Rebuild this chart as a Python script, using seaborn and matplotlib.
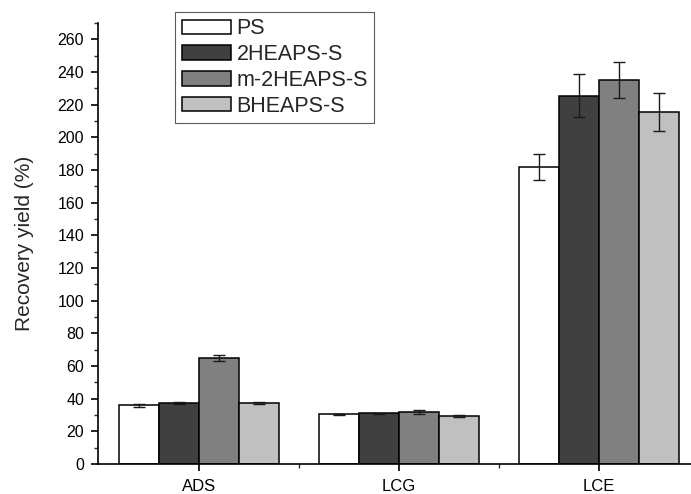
import matplotlib
matplotlib.use("Agg")
import matplotlib.pyplot as plt
from matplotlib.ticker import MultipleLocator, FixedLocator
import seaborn as sns
import pandas as pd
import numpy as np

categories = ["ADS", "LCG", "LCE"]
series = ["PS", "2HEAPS-S", "m-2HEAPS-S", "BHEAPS-S"]
values = {
    "PS": [36.0, 30.5, 182.0],
    "2HEAPS-S": [37.2, 31.0, 225.5],
    "m-2HEAPS-S": [64.8, 31.8, 235.0],
    "BHEAPS-S": [37.5, 29.3, 215.5],
}
errors = {
    "PS": [1.0, 0.3, 8.0],
    "2HEAPS-S": [0.6, 0.3, 13.0],
    "m-2HEAPS-S": [2.0, 1.0, 11.0],
    "BHEAPS-S": [0.7, 0.7, 11.5],
}
colors = ["#ffffff", "#404040", "#808080", "#c0c0c0"]

rows = []
for s in series:
    for c, v, e in zip(categories, values[s], errors[s]):
        rows.append({"cat": c, "series": s, "val": v, "err": e})
df = pd.DataFrame(rows)

sns.set_style("ticks")
plt.rcParams["font.family"] = ["Liberation Sans", "DejaVu Sans"]

fig = plt.figure(figsize=(6.91, 4.94), dpi=100)
ax = fig.add_axes([98/691, 30/494, 1 - 98/691, (464-23)/494])

sns.barplot(data=df, x="cat", y="val", hue="series", order=categories,
            hue_order=series, palette=colors, edgecolor="black", linewidth=1.1,
            width=0.8, errorbar=None, ax=ax, legend=True, saturation=1)

# error bars at bar centers
for s_idx, s in enumerate(series):
    cont = ax.containers[s_idx]
    xs = [p.get_x() + p.get_width()/2 for p in cont.patches]
    ax.errorbar(xs, values[s], yerr=errors[s], fmt="none", ecolor="#1a1a1a",
                elinewidth=1.0, capsize=4, capthick=1.0, zorder=5)

ax.set_xlim(-0.505, 2.46)
ax.set_ylim(0, 270)
ax.yaxis.set_major_locator(FixedLocator(np.arange(0, 261, 20)))
ax.yaxis.set_minor_locator(MultipleLocator(10))
ax.xaxis.set_minor_locator(FixedLocator([0.5, 1.5]))
ax.tick_params(axis="both", which="major", direction="out", length=5, width=1.2,
               colors="black")
ax.tick_params(axis="y", which="major", labelsize=11.5, pad=5)
ax.tick_params(axis="x", which="major", labelsize=12, pad=6)
ax.tick_params(axis="both", which="minor", direction="out", length=3, width=1.0)
ax.set_xlabel("")
ax.set_ylabel("Recovery yield (%)", fontsize=15)
ax.yaxis.set_label_coords(-0.108, 0.5)
sns.despine(ax=ax, top=True, right=True)
for sp in ["left", "bottom"]:
    ax.spines[sp].set_linewidth(1.2)
    ax.spines[sp].set_color("black")

leg = ax.legend(loc="upper left", bbox_to_anchor=(0.13, 1.025), frameon=True,
                fancybox=False, edgecolor="#333333", fontsize=15.5,
                handlelength=2.3, handleheight=0.65, handletextpad=0.25,
                labelspacing=0.22, borderpad=0.3, borderaxespad=0)
leg.get_frame().set_linewidth(0.8)

fig.savefig("out.png", dpi=100)
